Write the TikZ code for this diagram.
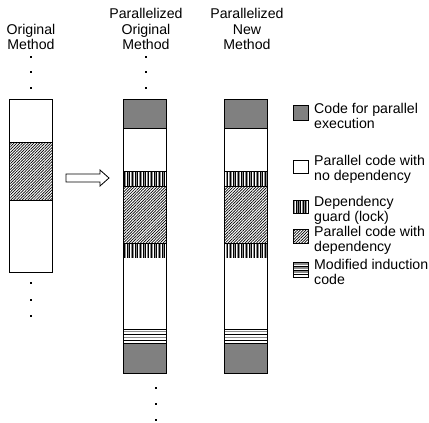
\documentclass[tikz,border=0pt]{standalone}
\usepackage{fontspec}
\setmainfont{Liberation Sans}
\usetikzlibrary{patterns.meta}
\tikzset{
  blk/.style={draw=black, line width=0.9bp},
  grayfill/.style={fill=black!50},
  hatchfill/.style={pattern={Lines[angle=45,distance=2bp,line width=0.7bp]}, pattern color=black},
  hdr/.style={font=\fontsize{14.2}{15.5}\selectfont, align=center, inner sep=0pt, anchor=north},
  leg/.style={font=\fontsize{14.2}{15}\selectfont, align=left, inner sep=0pt, anchor=north west},
  dotmark/.style={fill=black}
}
\newcommand\mydot[2]{\fill[dotmark] (#1-1,#2-1) rectangle (#1+1,#2+1);}
% vertical stripes between x #1..#2 and y #3..#4 with spacing #5
\newcommand\vstripes[5]{%
  \fill[white] (#1,#3) rectangle (#2,#4);
  \begin{scope}
    \clip (#1,#3) rectangle (#2,#4);
    \foreach \k in {0,...,20}{
      \draw[black, line width=0.7bp] ({#1+0.5*#5+2*#5*\k},#3) -- ++(0,#4-#3);
      \draw[black!45, line width=0.7bp] ({#1+1.5*#5+2*#5*\k},#3) -- ++(0,#4-#3);
    }
  \end{scope}
  \draw[blk] (#1,#3) rectangle (#2,#4);
}
\newcommand\pcolumn[1]{%
  \begin{scope}[xshift=#1]
    \fill[grayfill] (0,99) rectangle (43,128);
    \fill[white] (0,128) rectangle (43,171);
    \vstripes{0}{43}{171}{186}{1.35}
    \fill[white] (0,186) rectangle (43,243);
    \fill[hatchfill] (0,186) rectangle (43,243);
    \vstripes{0}{43}{243}{258}{1.35}
    \fill[white] (0,258) rectangle (43,329);
    \fill[white] (0,329) rectangle (43,343);
    \draw[black!45, line width=1.6bp] (0,331.5) -- (43,331.5);
    \draw[black, line width=0.8bp] (0,334.6) -- (43,334.6);
    \draw[black!45, line width=1.6bp] (0,337.6) -- (43,337.6);
    \draw[black, line width=0.8bp] (0,340.6) -- (43,340.6);
    \fill[grayfill] (0,343) rectangle (43,373);
    \draw[blk] (0,128) -- (43,128);
    \draw[blk] (0,186) -- (43,186);
    \draw[blk] (0,243) -- (43,243);
    \draw[blk] (0,329) -- (43,329);
    \draw[blk] (0,343) -- (43,343);
    \draw[blk] (0,99) rectangle (43,373);
  \end{scope}
}
\begin{document}
\begin{tikzpicture}[x=1bp,y=-1bp]
\useasboundingbox (0,0) rectangle (429,423);
% headers
\node[hdr] (h1) at (31,24) {Original\\Method};
\node[hdr] (h2) at (146,8.3) {Parallelized\\Original\\Method};
\node[hdr] (h3) at (247,8.3) {Parallelized\\New\\Method};
% dots
\mydot{31}{57}\mydot{31}{72}\mydot{31}{88}
\mydot{146}{57}\mydot{146}{72}\mydot{146}{88}
\mydot{31}{283}\mydot{31}{300}\mydot{31}{316}
\mydot{156}{388}\mydot{156}{404}\mydot{156}{420}
% original column
\fill[white] (9,99) rectangle (52,272);
\fill[hatchfill] (9,142) rectangle (52,200);
\draw[blk] (9,142) -- (52,142);
\draw[blk] (9,200) -- (52,200);
\draw[blk] (9,99) rectangle (52,272);
% hollow arrow
\draw[black, line width=0.8bp, line join=miter] (66,174) -- (100,174) -- (100,170) -- (109,178) -- (100,186) -- (100,182) -- (66,182) -- cycle;
% parallel columns
\pcolumn{124}
\pcolumn{225}
% legend boxes
\fill[grayfill] (293,105) rectangle (308,120);
\draw[blk] (293,105) rectangle (308,120);
\draw[blk, fill=white] (293,160) rectangle (308,173);
\vstripes{293}{308}{200}{213}{1.2}
\fill[white] (293,229) rectangle (308,243);
\fill[hatchfill] (293,229) rectangle (308,243);
\draw[blk] (293,229) rectangle (308,243);
\fill[white] (293,262) rectangle (308,277);
\foreach \yy in {264,268,272}{\draw[black!45, line width=1.2bp] (293,\yy) -- (308,\yy);}
\foreach \yy in {266,270,274}{\draw[black, line width=0.6bp] (293,\yy) -- (308,\yy);}
\draw[blk] (293,262) rectangle (308,277);
% legend text
\node[leg] (l1) at (314,103) {Code for parallel\\execution};
\node[leg] (l2) at (314,155) {Parallel code with\\no dependency};
\node[leg] (l3) at (314,196) {Dependency\\guard (lock)};
\node[leg] (l4) at (314,226) {Parallel code with\\dependency};
\node[leg] (l5) at (314,259) {Modified induction\\code};
\end{tikzpicture}
\end{document}
